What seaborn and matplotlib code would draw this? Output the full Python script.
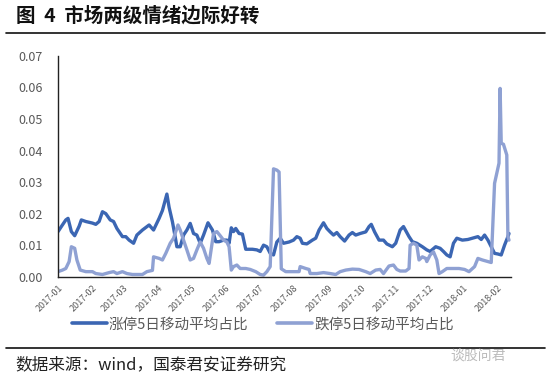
import matplotlib
matplotlib.use("Agg")
import matplotlib.pyplot as plt
import matplotlib.dates as mdates
from matplotlib.lines import Line2D
import pandas as pd
import seaborn as sns

# ---------------- data ----------------
up_dates = [
    "2017-01-01", "2017-01-04", "2017-01-08", "2017-01-10", "2017-01-13", "2017-01-16", "2017-01-20", "2017-01-22", "2017-01-26",
    "2017-02-01", "2017-02-04", "2017-02-07", "2017-02-10", "2017-02-13", "2017-02-17", "2017-02-20", "2017-02-23", "2017-02-28",
    "2017-03-03", "2017-03-06", "2017-03-10", "2017-03-13", "2017-03-18", "2017-03-24", "2017-03-28",
    "2017-04-02", "2017-04-05", "2017-04-09", "2017-04-11", "2017-04-14", "2017-04-17", "2017-04-18", "2017-04-21", "2017-04-24", "2017-04-27", "2017-04-30",
    "2017-05-03", "2017-05-06", "2017-05-09", "2017-05-12", "2017-05-16", "2017-05-20", "2017-05-23", "2017-05-26", "2017-05-30",
    "2017-06-02", "2017-06-04", "2017-06-06", "2017-06-08", "2017-06-10", "2017-06-13", "2017-06-16", "2017-06-19", "2017-06-25", "2017-06-29",
    "2017-07-02", "2017-07-05", "2017-07-08", "2017-07-11", "2017-07-14", "2017-07-17", "2017-07-20", "2017-07-23", "2017-07-28",
    "2017-08-01", "2017-08-04", "2017-08-07", "2017-08-09", "2017-08-13", "2017-08-18", "2017-08-21", "2017-08-24", "2017-08-28", "2017-08-31",
    "2017-09-03", "2017-09-06", "2017-09-09", "2017-09-12", "2017-09-16", "2017-09-20", "2017-09-23", "2017-09-26", "2017-09-30",
    "2017-10-05", "2017-10-08", "2017-10-10", "2017-10-13", "2017-10-17", "2017-10-21", "2017-10-24", "2017-10-29",
    "2017-11-01", "2017-11-05", "2017-11-08", "2017-11-13", "2017-11-16", "2017-11-20", "2017-11-25", "2017-11-29",
    "2017-12-02", "2017-12-07", "2017-12-11", "2017-12-14", "2017-12-17", "2017-12-20", "2017-12-23", "2017-12-26", "2017-12-31",
    "2018-01-05", "2018-01-09", "2018-01-14", "2018-01-17", "2018-01-20", "2018-01-23", "2018-01-26", "2018-01-29",
    "2018-02-01", "2018-02-04", "2018-02-07", "2018-02-10", "2018-02-11",
]
up_values = [
    0.0143, 0.0159, 0.018, 0.0185, 0.0143, 0.013, 0.016, 0.018, 0.0175,
    0.017, 0.0166, 0.0175, 0.0206, 0.020, 0.018, 0.0175, 0.0153, 0.0127,
    0.0127, 0.0116, 0.0106, 0.0132, 0.0148, 0.0164, 0.0148,
    0.0185, 0.021, 0.0262, 0.022, 0.0174, 0.0116, 0.0095, 0.0095, 0.0132, 0.0148, 0.0169,
    0.0137, 0.0132, 0.0106, 0.0132, 0.0171, 0.0148, 0.0111, 0.0111, 0.0116,
    0.0116, 0.0106, 0.0155, 0.0143, 0.0153, 0.0137, 0.0135, 0.0087, 0.0087, 0.0085,
    0.008, 0.01, 0.0095, 0.0074, 0.0069, 0.011, 0.0122, 0.0106, 0.011,
    0.0116, 0.0127, 0.0122, 0.0106, 0.0104, 0.0116, 0.0122, 0.0148, 0.0171, 0.0153,
    0.0142, 0.0132, 0.014, 0.0127, 0.0113, 0.0132, 0.014, 0.0132, 0.0137,
    0.0142, 0.0159, 0.0166, 0.0142, 0.0116, 0.0116, 0.0104, 0.0095,
    0.0106, 0.0148, 0.0159, 0.0127, 0.0111, 0.0106, 0.0095, 0.0085,
    0.008, 0.0095, 0.009, 0.008, 0.0069, 0.0063, 0.0106, 0.0122, 0.0116,
    0.0118, 0.0122, 0.0127, 0.0118, 0.0132, 0.0116, 0.0095, 0.0074,
    0.0072, 0.0069, 0.01, 0.0127, 0.0137,
]

down_dates = [
    "2017-01-01", "2017-01-05", "2017-01-08", "2017-01-11", "2017-01-13", "2017-01-16", "2017-01-18", "2017-01-21", "2017-01-26",
    "2017-02-01", "2017-02-04", "2017-02-10", "2017-02-16", "2017-02-20", "2017-02-23", "2017-02-28",
    "2017-03-04", "2017-03-09", "2017-03-18", "2017-03-22", "2017-03-27", "2017-03-28",
    "2017-04-02", "2017-04-05", "2017-04-08", "2017-04-12", "2017-04-15", "2017-04-19", "2017-04-21", "2017-04-24", "2017-04-27", "2017-04-30",
    "2017-05-03", "2017-05-06", "2017-05-09", "2017-05-12", "2017-05-15", "2017-05-17", "2017-05-21", "2017-05-24", "2017-05-27", "2017-05-30",
    "2017-06-02", "2017-06-04", "2017-06-06", "2017-06-08", "2017-06-11", "2017-06-14", "2017-06-19", "2017-06-23", "2017-06-28",
    "2017-07-02", "2017-07-05", "2017-07-08", "2017-07-11", "2017-07-14", "2017-07-17", "2017-07-19", "2017-07-21", "2017-07-25", "2017-07-31",
    "2017-08-06", "2017-08-07", "2017-08-12", "2017-08-15", "2017-08-16", "2017-08-22", "2017-08-28",
    "2017-09-03", "2017-09-08", "2017-09-12", "2017-09-17", "2017-09-23", "2017-09-29",
    "2017-10-05", "2017-10-09", "2017-10-14", "2017-10-18", "2017-10-21", "2017-10-26", "2017-10-30",
    "2017-11-02", "2017-11-05", "2017-11-10", "2017-11-13", "2017-11-14", "2017-11-17", "2017-11-20", "2017-11-22", "2017-11-25", "2017-11-28", "2017-11-29",
    "2017-12-02", "2017-12-05", "2017-12-08", "2017-12-10", "2017-12-13", "2017-12-17", "2017-12-22", "2017-12-28",
    "2018-01-02", "2018-01-06", "2018-01-11", "2018-01-14", "2018-01-18", "2018-01-23", "2018-01-26", "2018-01-29",
    "2018-02-01", "2018-02-02", "2018-02-03", "2018-02-04", "2018-02-06", "2018-02-09", "2018-02-10", "2018-02-11",
]
down_values = [
    0.0016, 0.0021, 0.0026, 0.0048, 0.0095, 0.009, 0.0053, 0.0021, 0.0016,
    0.0016, 0.001, 0.0007, 0.0013, 0.0016, 0.001, 0.0016,
    0.001, 0.0007, 0.0007, 0.0016, 0.002, 0.0063,
    0.0058, 0.0053, 0.0074, 0.0106, 0.0122, 0.0164, 0.0148, 0.0116, 0.0085, 0.0053,
    0.0058, 0.0085, 0.011, 0.009, 0.0058, 0.0042, 0.0137, 0.0143, 0.013, 0.0116,
    0.011, 0.0095, 0.0021, 0.0032, 0.0037, 0.0026, 0.0026, 0.0023, 0.0016,
    0.0007, 0.0005, 0.0016, 0.0032, 0.0342, 0.0338, 0.0332, 0.0025, 0.0016, 0.0016,
    0.0016, 0.0032, 0.0026, 0.0023, 0.001, 0.001, 0.0013,
    0.001, 0.0007, 0.0016, 0.0021, 0.0024, 0.0023,
    0.0016, 0.001, 0.0021, 0.0023, 0.001, 0.0034, 0.0037,
    0.0023, 0.0018, 0.0018, 0.0026, 0.01, 0.0106, 0.01, 0.0053, 0.0063, 0.0058, 0.0048,
    0.0069, 0.0079, 0.0053, 0.001, 0.0016, 0.0026, 0.0026, 0.0026,
    0.0023, 0.0016, 0.0032, 0.0058, 0.0053, 0.0048, 0.0045, 0.0296,
    0.0344, 0.036, 0.0597, 0.0423, 0.042, 0.0386, 0.0127, 0.0116,
]

series_names = ["涨停5日移动平均占比", "跌停5日移动平均占比"]
series_colors = ["#3B66B3", "#8FA1D3"]
y_ticks = [0.00, 0.01, 0.02, 0.03, 0.04, 0.05, 0.06, 0.07]
title_text = "图  4  市场两级情绪边际好转"
source_text = "数据来源：wind，国泰君安证券研究"
watermark_text = "谈股问君"

# ---------------- build frame ----------------
df = pd.concat([
    pd.DataFrame({"date": pd.to_datetime(up_dates), "value": up_values, "series": series_names[0]}),
    pd.DataFrame({"date": pd.to_datetime(down_dates), "value": down_values, "series": series_names[1]}),
], ignore_index=True)

sns.set_theme(style="white")
plt.rcParams["font.family"] = ["Noto Sans CJK SC", "DejaVu Sans"]
plt.rcParams["axes.unicode_minus"] = False

fig = plt.figure(figsize=(5.5, 3.78), dpi=100)
ax = fig.add_axes([0.1055, 0.268, 0.824, 0.584])

sns.lineplot(data=df, x="date", y="value", hue="series", hue_order=series_names,
             palette=series_colors, linewidth=2.4, ax=ax, legend=False,
             estimator=None, sort=True)

ax.set_ylim(0, 0.07)
ax.set_yticks(y_ticks)
ax.yaxis.set_major_formatter(matplotlib.ticker.FormatStrFormatter("%.2f"))
ax.set_xlim(pd.Timestamp("2017-01-01"), pd.Timestamp("2018-02-13"))
ax.xaxis.set_major_locator(mdates.MonthLocator())
ax.xaxis.set_major_formatter(mdates.DateFormatter("%Y-%m"))
ax.set_xlabel("")
ax.set_ylabel("")

for s in ["top", "right"]:
    ax.spines[s].set_visible(False)
for s in ["left", "bottom"]:
    ax.spines[s].set_color("#222222")
    ax.spines[s].set_linewidth(1.0)

ax.tick_params(axis="y", direction="in", length=4, width=0.8, color="#222222",
               labelsize=9, labelcolor="#595959", pad=11)
ax.tick_params(axis="x", direction="out", length=3, width=0.8, color="#222222",
               labelsize=6.5, labelcolor="#595959", pad=2)
for lbl in ax.get_xticklabels():
    lbl.set_rotation(45)
    lbl.set_ha("right")
    lbl.set_rotation_mode("anchor")

# legend
handles = [Line2D([0], [0], color=c, lw=2.6) for c in series_colors]
fig.legend(handles, series_names, loc="center", bbox_to_anchor=(0.478, 0.142), ncol=2,
           frameon=False, fontsize=10.5, handlelength=2.4, handletextpad=0.15,
           columnspacing=2.0, labelcolor="#595959")

# title and rules
fig.text(0.03, 0.958, title_text, fontsize=14, fontweight="bold", color="#111111",
         ha="left", va="center")
fig.add_artist(Line2D([0.01, 0.99], [0.913, 0.913], transform=fig.transFigure,
                      color="#111111", lw=1.2))
fig.add_artist(Line2D([0.01, 0.99], [0.079, 0.079], transform=fig.transFigure,
                      color="#111111", lw=1.2))
fig.text(0.027, 0.035, source_text, fontsize=12, color="#222222", ha="left", va="center")
fig.text(0.92, 0.058, watermark_text, fontsize=10, color="#BBBBBB", ha="right", va="center")

fig.savefig("out.png", dpi=100)
